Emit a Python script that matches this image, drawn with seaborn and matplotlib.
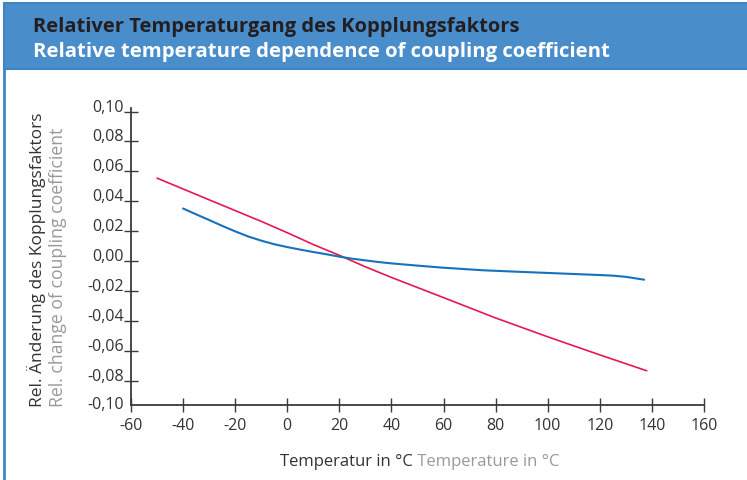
import matplotlib
matplotlib.use("Agg")
import matplotlib.pyplot as plt
from matplotlib.patches import Rectangle
import seaborn as sns
import pandas as pd

# ---- data ----
temp_red = [-50, -30, -10, 0, 10, 20, 30, 40, 60, 80, 100, 120, 138]
coef_red = [0.0555, 0.041, 0.0266, 0.019, 0.0111, 0.0039, -0.0038, -0.0109,
            -0.0244, -0.0380, -0.0506, -0.0627, -0.0733]
temp_blue = [-40, -35, -30, -25, -20, -15, -10, -5, 0, 5, 10, 15, 20, 25, 30,
             35, 40, 50, 60, 75, 90, 100, 110, 120, 125, 130, 137]
coef_blue = [0.0352, 0.0313, 0.0275, 0.0236, 0.0199, 0.0165, 0.0137, 0.0113,
             0.0094, 0.0077, 0.0061, 0.0046, 0.0030, 0.0016, 0.0005, -0.0006,
             -0.0015, -0.0030, -0.0044, -0.0061, -0.0072, -0.0079, -0.0086,
             -0.0093, -0.0097, -0.0105, -0.0124]
x_ticks = [-60, -40, -20, 0, 20, 40, 60, 80, 100, 120, 140, 160]
y_ticks = [-0.096, -0.08, -0.06, -0.04, -0.02, 0.00, 0.02, 0.04, 0.06, 0.08, 0.10]
y_tick_labels = ["-0,10", "-0,08", "-0,06", "-0,04", "-0,02", "0,00",
                 "0,02", "0,04", "0,06", "0,08", "0,10"]
title_de = "Relativer Temperaturgang des Kopplungsfaktors"
title_en = "Relative temperature dependence of coupling coefficient"
ylabel_de = "Rel. Änderung des Kopplungsfaktors"
ylabel_en = "Rel. change of coupling coefficient"
xlabel_de = "Temperatur in °C"
xlabel_en = "Temperature in °C"

sns.set_theme(style="white")
plt.rcParams["font.family"] = ["Open Sans", "DejaVu Sans"]

W, H = 747, 480
fig = plt.figure(figsize=(W / 100, H / 100), dpi=100)

def fx(px):
    return px / W

def fy(py):
    return 1 - py / H

BLUE_HDR = "#4a8dcb"
BORDER = "#3f85c6"
# outer frame + header band
fig.patches.append(Rectangle((fx(4), fy(490)), fx(760), 490 / H - 3 / H,
                             transform=fig.transFigure, facecolor="white",
                             edgecolor=BORDER, linewidth=2, zorder=0))
fig.patches.append(Rectangle((fx(4), fy(69)), fx(760), 66 / H,
                             transform=fig.transFigure, facecolor=BLUE_HDR,
                             edgecolor=BORDER, linewidth=1.5, zorder=1))
fig.text(fx(33), fy(32), title_de, fontsize=14.5, fontweight="bold",
         color="#231f20", va="baseline", ha="left", zorder=3)
fig.text(fx(33), fy(56.5), title_en, fontsize=14.55, fontweight="bold",
         color="white", va="baseline", ha="left", zorder=3)

ax = fig.add_axes([fx(131), fy(404.7), fx(704) - fx(131), (404.7 - 108.3) / H])
ax.set_facecolor("none")
ax.set_zorder(5)

df_red = pd.DataFrame({"T": temp_red, "k": coef_red})
df_blue = pd.DataFrame({"T": temp_blue, "k": coef_blue})
sns.lineplot(data=df_red, x="T", y="k", ax=ax, color="#e5194f", linewidth=1.2,
             sort=True, estimator=None)
sns.lineplot(data=df_blue, x="T", y="k", ax=ax, color="#1672be", linewidth=1.5,
             sort=True, estimator=None)

ax.set_xlim(-60, 160)
ax.set_ylim(-0.096, 0.1022)
ax.set_xticks(x_ticks)
ax.set_xticklabels([str(v) for v in x_ticks])
ax.set_yticks(y_ticks)
ax.set_yticklabels(y_tick_labels)
ax.set_xlabel("")
ax.set_ylabel("")

for s in ["top", "right"]:
    ax.spines[s].set_visible(False)
for s in ["left", "bottom"]:
    ax.spines[s].set_color("#3a3a3a")
    ax.spines[s].set_linewidth(1.3)

ax.tick_params(axis="both", direction="inout", length=10.5, width=1.0,
               color="#3a3a3a", labelcolor="#333333", labelsize=11.5,
               bottom=True, left=True, top=False, right=False)
ax.tick_params(axis="y", pad=0)
ax.tick_params(axis="x", pad=4)

ylabels = ax.get_yticklabels()
for i, lab in enumerate(ylabels):
    lab.set_verticalalignment("center" if i == 0 else "baseline")
ax.yaxis.get_major_ticks()[0].tick1line.set_visible(False)

# y-axis two-line label
fig.text(fx(42), fy(407), ylabel_de, rotation=90, rotation_mode="anchor",
         ha="left", va="baseline", fontsize=12.5, color="#333333")
fig.text(fx(63), fy(407), ylabel_en, rotation=90, rotation_mode="anchor",
         ha="left", va="baseline", fontsize=12.7, color="#999999")

# x-axis two-colour label
renderer = fig.canvas.get_renderer()
t1 = fig.text(0, fy(466), xlabel_de, fontsize=12, color="#333333",
              ha="left", va="baseline")
t2 = fig.text(0, fy(466), " " + xlabel_en, fontsize=12, color="#999999",
              ha="left", va="baseline")
w1 = t1.get_window_extent(renderer).width
w2 = t2.get_window_extent(renderer).width
x0 = 420 - (w1 + w2) / 2
t1.set_x(fx(x0))
t2.set_x(fx(x0 + w1))

fig.savefig("out.png", dpi=100)
